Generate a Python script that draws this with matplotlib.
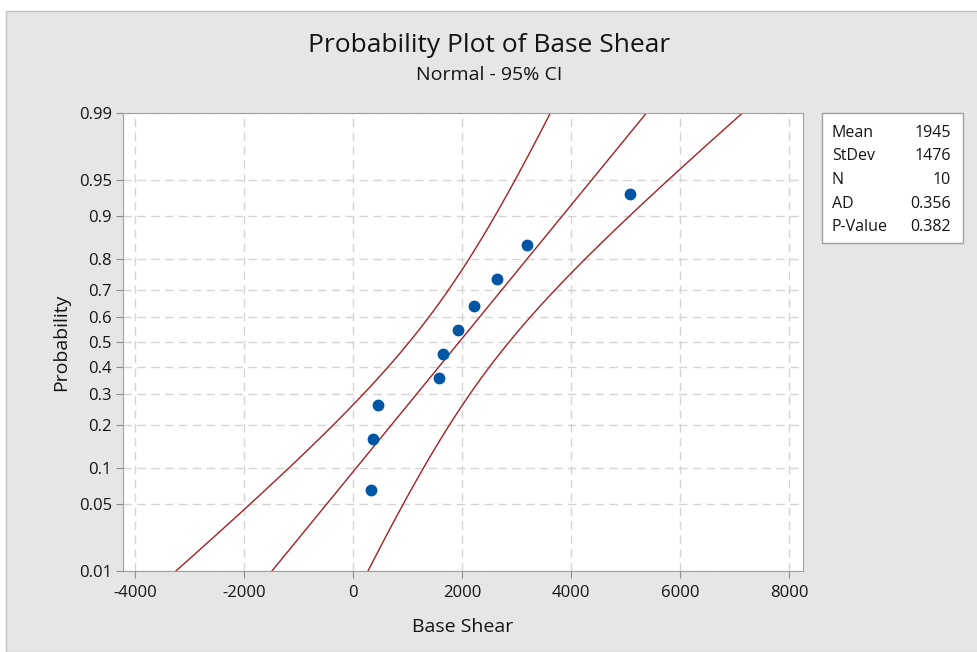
import numpy as np
import matplotlib
matplotlib.use("Agg")
import matplotlib.pyplot as plt
from matplotlib.patches import Rectangle
from statistics import NormalDist

plt.rcParams['font.family'] = ['Open Sans', 'DejaVu Sans']

# data
base_shear = [330, 367, 459, 1578, 1651, 1927, 2220, 2642, 3193, 5083]
plot_prob = [0.067, 0.163, 0.260, 0.356, 0.452, 0.548, 0.644, 0.740, 0.837, 0.933]
stat_names = ["Mean", "StDev", "N", "AD", "P-Value"]
stat_values = ["1945", "1476", "10", "0.356", "0.382"]
mean, stdev, n = 1945.0, 1476.0, 10
prob_ticks = [0.01, 0.05, 0.1, 0.2, 0.3, 0.4, 0.5, 0.6, 0.7, 0.8, 0.9, 0.95, 0.99]
prob_labels = ["0.01", "0.05", "0.1", "0.2", "0.3", "0.4", "0.5", "0.6", "0.7", "0.8", "0.9", "0.95", "0.99"]
x_ticks = [-4000, -2000, 0, 2000, 4000, 6000, 8000]

nd = NormalDist()
ppf = np.vectorize(nd.inv_cdf)
txt = "#141414"

fig = plt.figure(figsize=(9.78, 6.52), dpi=100, facecolor="white")
fig.patches.append(Rectangle((6 / 978, 0), 1 - 6 / 978, (652 - 11) / 652,
                             transform=fig.transFigure, facecolor="#e6e6e6",
                             edgecolor="#c4c4c4", lw=1, zorder=-5))

ax = fig.add_axes([123 / 978, 1 - 571 / 652, 680 / 978, 458 / 652])
ax.set_facecolor("white")

# fitted line and 95% CI
z = np.linspace(ppf(0.005), ppf(0.995), 200)
fit = mean + z * stdev
half = 1.96 * stdev * np.sqrt(1 / n + z ** 2 / (2 * n))
red = "#a31f24"
ax.plot(fit, z, color=red, lw=1)
ax.plot(fit - half, z, color=red, lw=1)
ax.plot(fit + half, z, color=red, lw=1)

ax.plot(base_shear, ppf(plot_prob), "o", color="#0055a5", ms=7.5, zorder=5)

ax.set_xlim(-4220, 8250)
ax.set_ylim(ppf(0.01), ppf(0.99))
ax.set_xticks(x_ticks)
ax.set_xticklabels([str(v) for v in x_ticks])
ax.set_yticks(ppf(prob_ticks))
ax.set_yticklabels(prob_labels)
ax.grid(True, color="#d4d4d4", ls=(0, (6, 4)), lw=1)
ax.set_axisbelow(True)
for s in ax.spines.values():
    s.set_color("#a0a0a0")
ax.tick_params(colors="#8c8c8c", labelcolor=txt, labelsize=12, length=5)
ax.tick_params(axis="x", pad=5)
ax.tick_params(axis="y", pad=3)

ax.set_xlabel("Base Shear", fontsize=14, color=txt, labelpad=12)
ax.set_ylabel("Probability", fontsize=14, color=txt, labelpad=6)

fig.text(0.5, 1 - 46 / 652, "Probability Plot of Base Shear", ha="center", va="center",
         fontsize=19, color=txt)
fig.text(0.5, 1 - 75 / 652, "Normal - 95% CI", ha="center", va="center",
         fontsize=14, color=txt)

# stats box
fig.patches.append(Rectangle((822 / 978, 1 - 243 / 652), 141 / 978, 130 / 652,
                             transform=fig.transFigure, facecolor="white",
                             edgecolor="#a0a0a0", lw=1, zorder=1))
for i, (name, val) in enumerate(zip(stat_names, stat_values)):
    y = 1 - (133 + i * 23.5) / 652
    fig.text(832 / 978, y, name, ha="left", va="center", fontsize=11.5, color=txt)
    fig.text(951 / 978, y, val, ha="right", va="center", fontsize=11.5, color=txt)

fig.savefig("out.png", dpi=100, facecolor=fig.get_facecolor())
